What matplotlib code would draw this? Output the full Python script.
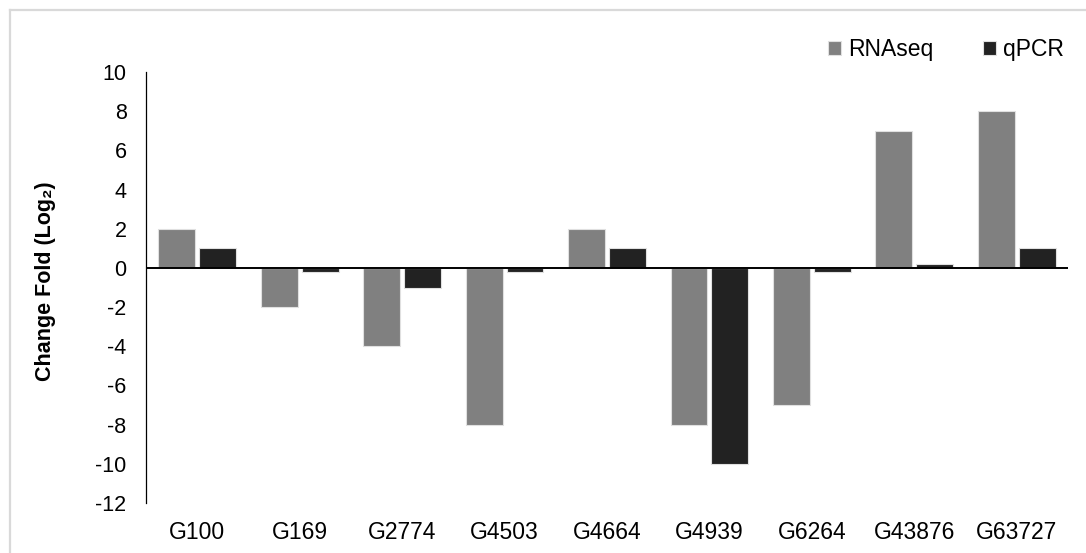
import matplotlib
matplotlib.use("Agg")
import matplotlib.pyplot as plt
import numpy as np
from matplotlib.lines import Line2D

plt.rcParams['font.family'] = ['Liberation Sans', 'DejaVu Sans']

categories = ["G100", "G169", "G2774", "G4503", "G4664", "G4939", "G6264", "G43876", "G63727"]
rnaseq = [2, -2, -4, -8, 2, -8, -7, 7, 8]
qpcr = [1, -0.2, -1, -0.2, 1, -10, -0.2, 0.2, 1]
yticks = [10, 8, 6, 4, 2, 0, -2, -4, -6, -8, -10, -12]

fig = plt.figure(figsize=(10.86, 5.53), dpi=100)
ax = fig.add_axes([146/1086, 1-503/553, (1068-146)/1086, (503-72)/553])

x = np.arange(len(categories))
w = 0.36
ax.bar(x - 0.2, rnaseq, width=w, color="#808080", edgecolor="#e0e0e0", linewidth=0.8, label="RNAseq")
ax.bar(x + 0.2, qpcr, width=w, color="#222222", edgecolor="#e0e0e0", linewidth=0.8, label="qPCR")

ax.set_xlim(-0.5, len(categories) - 0.5)
ax.set_ylim(-12, 10)
ax.set_yticks(yticks)
ax.set_yticklabels([str(t) for t in yticks], fontsize=15.5)
ax.set_xticks(x)
ax.set_xticklabels(categories, fontsize=16.5)
ax.tick_params(axis='both', length=0)
ax.tick_params(axis='x', pad=13)
ax.tick_params(axis='y', pad=14)
for s in ['top', 'right', 'bottom']:
    ax.spines[s].set_visible(False)
ax.spines['left'].set_linewidth(0.9)
ax.axhline(0, color="black", linewidth=1.4, zorder=3)

ax.set_ylabel("Change Fold (Log₂)", fontsize=15.5, fontweight='bold')
ax.yaxis.set_label_coords((56-146)/922, 0.515)

fig.legend(loc='center', bbox_to_anchor=(946/1086, 1-50/553), ncol=2, frameon=False,
           fontsize=16.5, handlelength=0.55, handleheight=0.55, handletextpad=0.3, columnspacing=2.2)

# light frame (left and top edges)
fig.lines.append(Line2D([10/1086, 10/1086], [0, 1-10/553], transform=fig.transFigure,
                        color="#d9d9d9", linewidth=1.6))
fig.lines.append(Line2D([10/1086, 1], [1-10/553, 1-10/553], transform=fig.transFigure,
                        color="#d9d9d9", linewidth=1.6))

fig.savefig("out.png", dpi=100)
